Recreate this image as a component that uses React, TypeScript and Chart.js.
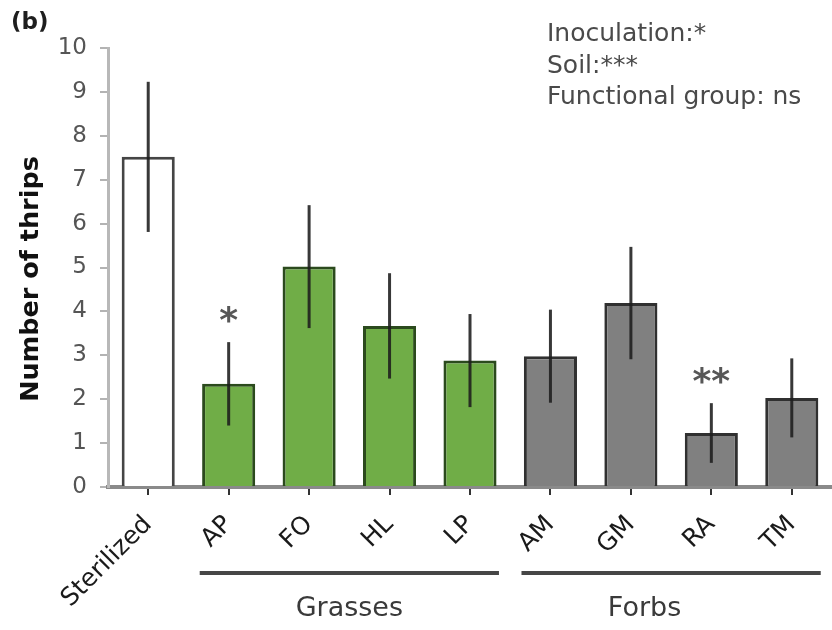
import React, { useEffect, useRef } from 'react';
import { Chart, registerables } from 'chart.js';

Chart.register(...registerables);

// ---- data ----
const categories = ['Sterilized', 'AP', 'FO', 'HL', 'LP', 'AM', 'GM', 'RA', 'TM'];
const groups = ['Control', 'Grasses', 'Grasses', 'Grasses', 'Grasses', 'Forbs', 'Forbs', 'Forbs', 'Forbs'];
const means = [7.52, 2.35, 5.02, 3.67, 2.88, 2.98, 4.19, 1.23, 2.03];
const errors = [1.71, 0.95, 1.4, 1.2, 1.06, 1.06, 1.28, 0.68, 0.9];
const significance = ['', '*', '', '', '', '', '', '**', ''];
const groupLabels = ['Grasses', 'Forbs'];
const statLines = ['Inoculation:*', 'Soil:***', 'Functional group: ns'];
const yTitle = 'Number of thrips';
const panelLabel = '(b)';
const yMin = 0;
const yMax = 10;
const yStep = 1;

const FONT = '"DejaVu Sans", "Liberation Sans", Arial, sans-serif';

const fillFor = (g: string) => (g === 'Grasses' ? '#70ad47' : g === 'Forbs' ? '#808080' : '#ffffff');
const borderFor = (g: string) => (g === 'Grasses' ? '#2b4a1d' : g === 'Forbs' ? '#303030' : '#454545');

export default function App() {
  const ref = useRef<HTMLCanvasElement>(null);

  useEffect(() => {
    const canvas = ref.current;
    if (!canvas) return;

    const overlay = {
      id: 'overlay',
      afterDatasetsDraw(chart: any) {
        const ctx = chart.ctx as CanvasRenderingContext2D;
        const xs = chart.scales.x;
        const ys = chart.scales.y;
        ctx.save();
        means.forEach((m, i) => {
          const px = xs.getPixelForValue(i);
          const top = ys.getPixelForValue(m + errors[i]);
          const bot = ys.getPixelForValue(m - errors[i]);
          ctx.strokeStyle = 'rgba(28,28,28,0.88)';
          ctx.lineWidth = 3;
          ctx.beginPath();
          ctx.moveTo(px, top);
          ctx.lineTo(px, bot);
          ctx.stroke();
          if (significance[i]) {
            ctx.font = `bold 36px ${FONT}`;
            ctx.fillStyle = '#575757';
            ctx.textAlign = 'center';
            ctx.textBaseline = 'alphabetic';
            const mt = ctx.measureText(significance[i]);
            const cy = top - 28;
            const baseY = cy + (mt.actualBoundingBoxAscent - mt.actualBoundingBoxDescent) / 2;
            ctx.fillText(significance[i], px, baseY);
          }
        });
        ctx.restore();
      },
      afterDraw(chart: any) {
        const ctx = chart.ctx as CanvasRenderingContext2D;
        const xs = chart.scales.x;
        const area = chart.chartArea;
        const cw = xs.width / categories.length;
        ctx.save();

        // group brackets and labels
        const labelShift = [0, -0.33];
        groupLabels.forEach((g, gi) => {
          const idx = categories.map((_, i) => i).filter((i) => groups[i] === g);
          const x1 = xs.getPixelForValue(idx[0]) - 0.36 * cw;
          const x2 = xs.getPixelForValue(idx[idx.length - 1]) + 0.36 * cw;
          const ly = area.bottom + 86;
          ctx.strokeStyle = '#464646';
          ctx.lineWidth = 4;
          ctx.beginPath();
          ctx.moveTo(x1, ly);
          ctx.lineTo(x2, ly);
          ctx.stroke();
          const cx = idx.reduce((s, i) => s + xs.getPixelForValue(i), 0) / idx.length + labelShift[gi] * cw;
          ctx.font = `27px ${FONT}`;
          ctx.fillStyle = '#3a3a3a';
          ctx.textAlign = 'center';
          ctx.textBaseline = 'alphabetic';
          ctx.fillText(g, cx, area.bottom + 129);
        });

        // statistics text
        ctx.font = `25px ${FONT}`;
        ctx.fillStyle = '#4a4a4a';
        ctx.textAlign = 'left';
        ctx.textBaseline = 'alphabetic';
        statLines.forEach((t, i) => {
          ctx.fillText(t, 547, 41 + i * 31.5);
        });

        // panel label
        ctx.font = `bold 23px ${FONT}`;
        ctx.fillStyle = '#1e1e1e';
        ctx.fillText(panelLabel, 11, 29);

        // y title
        ctx.translate(31, 279);
        ctx.rotate(-Math.PI / 2);
        ctx.font = `bold 25.5px ${FONT}`;
        ctx.fillStyle = '#111111';
        ctx.textAlign = 'center';
        ctx.textBaseline = 'middle';
        ctx.fillText(yTitle, 0, 0);

        ctx.restore();
      },
    };

    const chart = new Chart(canvas, {
      type: 'bar',
      data: {
        labels: categories,
        datasets: [
          {
            data: means,
            backgroundColor: groups.map(fillFor),
            borderColor: groups.map(borderFor),
            borderWidth: 3,
            barPercentage: 0.66,
            categoryPercentage: 1,
          },
        ],
      },
      options: {
        animation: false,
        responsive: true,
        maintainAspectRatio: false,
        layout: { padding: { top: 48, right: 0, bottom: 0, left: 0 } },
        plugins: {
          legend: { display: false },
          tooltip: { enabled: false },
          title: { display: false },
        },
        scales: {
          x: {
            grid: {
              offset: false,
              drawOnChartArea: false,
              drawTicks: true,
              tickLength: 8,
              color: '#333333',
              lineWidth: 2,
            },
            border: { display: true, color: '#8a8a8a', width: 4 },
            ticks: {
              autoSkip: false,
              minRotation: 45,
              maxRotation: 45,
              padding: 15,
              color: '#1a1a1a',
              font: { family: FONT, size: 25 },
            },
            afterFit: (s: any) => {
              s.height = 143;
              s.paddingLeft = 0;
              s.paddingRight = 0;
            },
          },
          y: {
            min: yMin,
            max: yMax,
            ticks: {
              stepSize: yStep,
              padding: 13,
              color: '#555555',
              font: { family: FONT, size: 23 },
            },
            grid: {
              drawOnChartArea: false,
              drawTicks: true,
              tickLength: 8,
              color: '#b3b3b3',
              lineWidth: 2,
            },
            border: { display: true, color: '#b8b8b8', width: 3 },
            afterFit: (s: any) => {
              s.width = 108;
              s.paddingTop = 0;
              s.paddingBottom = 0;
            },
          },
        },
      },
      plugins: [overlay],
    });

    return () => chart.destroy();
  }, []);

  return (
    <div style={{ position: 'fixed', left: 0, top: 0, width: 832, height: 630, background: '#ffffff' }}>
      <canvas ref={ref} />
    </div>
  );
}
